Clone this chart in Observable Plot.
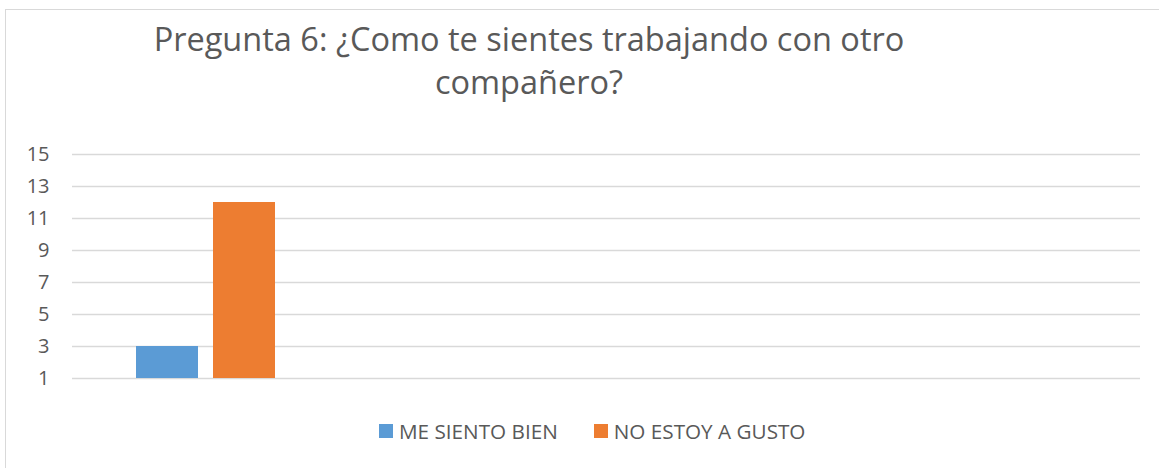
<!DOCTYPE html>
<html>
<head>
<meta charset="utf-8">
<script src="https://cdn.jsdelivr.net/npm/d3@7"></script>
<script src="https://cdn.jsdelivr.net/npm/@observablehq/plot@0.6"></script>
<style>
  html, body { margin: 0; padding: 0; background: #fff; overflow: hidden; }
  body { width: 1159px; height: 468px; position: relative; font-family: "Open Sans", sans-serif; color: #595959; }
  #frame { position: absolute; left: 5px; top: 9px; width: 1180px; height: 480px; border: 1.5px solid #d9d9d9; box-sizing: border-box; }
  #title { position: absolute; left: 0; top: 17px; width: 1058px; text-align: center; font-size: 32.5px; line-height: 43px; color: #595959; }
  #chart { position: absolute; left: 0; top: 130px; }
  #legend { position: absolute; left: 379px; top: 417px; display: flex; align-items: center; font-size: 20.7px; color: #595959; white-space: nowrap; }
  .item { display: flex; align-items: center; margin-right: 36px; }
  .sw { width: 14px; height: 14px; margin-right: 6px; }
</style>
</head>
<body>
<div id="frame"></div>
<div id="title">Pregunta 6: ¿Como te sientes trabajando con otro<br>compañero?</div>
<div id="chart"></div>
<div id="legend"></div>
<script>
// Data
const titleText = "Pregunta 6: ¿Como te sientes trabajando con otro compañero?";
const categories = ["1", "2", "3", "4"];
const series = ["ME SIENTO BIEN", "NO ESTOY A GUSTO"];
const valuesMeSientoBien = [3, null, null, null];
const valuesNoEstoyAGusto = [12, null, null, null];
const colors = ["#5B9BD5", "#ED7D31"];
const yTicks = [1, 3, 5, 7, 9, 11, 13, 15];
const yMin = 1;
const yMax = 15;

const seriesValues = [valuesMeSientoBien, valuesNoEstoyAGusto];
const rows = [];
categories.forEach((c, i) => {
  series.forEach((s, j) => {
    rows.push({category: c, series: s, value: seriesValues[j][i]});
  });
});

const plot = Plot.plot({
  width: 1159,
  height: 270,
  marginTop: 24,
  marginBottom: 22,
  marginLeft: 70,
  marginRight: 18,
  style: {fontFamily: "Open Sans, sans-serif", fontSize: "20px", color: "#595959", background: "transparent", overflow: "visible"},
  fx: {domain: categories, padding: 0, axis: null, label: null},
  x: {domain: series, paddingInner: 0.197, paddingOuter: 0.83, axis: null, label: null},
  y: {domain: [yMin, yMax], ticks: yTicks, tickSize: 0, tickPadding: 23, label: null, tickFormat: d3.format("d")},
  color: {domain: series, range: colors},
  marks: [
    Plot.ruleY(rows, {fx: "category", y: () => null, stroke: "none"}),
    Plot.ruleY(yTicks, {stroke: "#d9d9d9", strokeWidth: 1.5}),
    Plot.barY(rows, {fx: "category", x: "series", y1: yMin, y2: "value", fill: "series"})
  ]
});
document.getElementById("chart").appendChild(plot);

const legend = d3.select("#legend");
series.forEach((s, i) => {
  const item = legend.append("div").attr("class", "item");
  item.append("div").attr("class", "sw").style("background", colors[i]);
  item.append("span").text(s);
});
</script>
</body>
</html>
